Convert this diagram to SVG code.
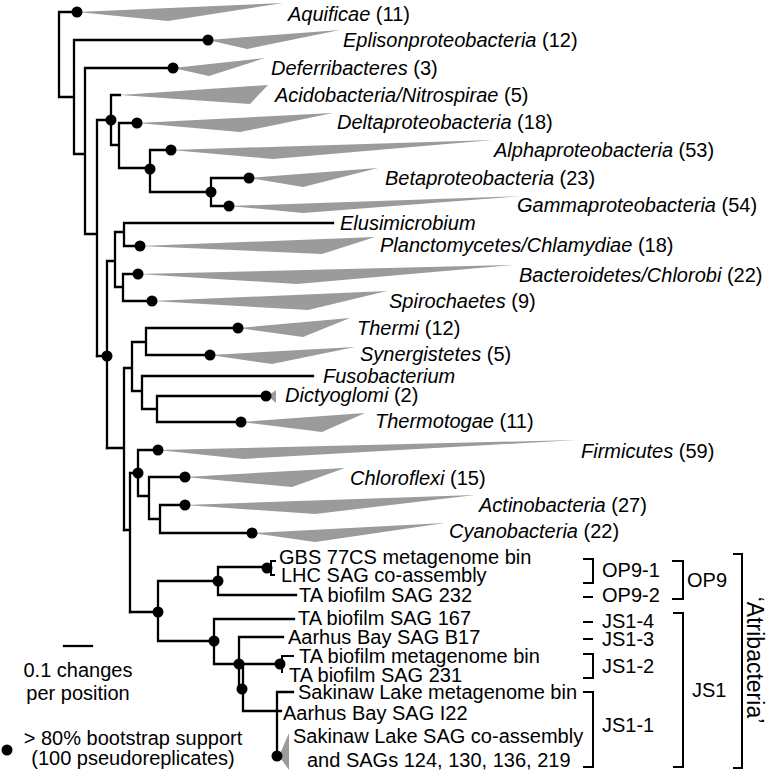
<svg xmlns="http://www.w3.org/2000/svg" width="770" height="774" viewBox="0 0 770 774">
<style>
.br{fill:none;stroke:#000;stroke-width:2.3;stroke-linecap:square}
.bk{fill:none;stroke:#000;stroke-width:2}
.w{fill:#9b9b9b;stroke:none}
.d{fill:#000}
text{font-family:"Liberation Sans",Arial,sans-serif;font-size:20px;fill:#000}
.i{font-style:italic}
</style>
<rect width="770" height="774" fill="#fff"/>
<g id="connectors" class="br">
<path d="M77,12H59V97H74 M74,40V154 M74,40H208 M74,154H85 M85,68V234 M85,68H173 M85,234H97 M97,120V356 M97,120H111 M111,95V145 M111,95H120 M111,145H119 M119,123V168 M119,123H137 M119,168H150 M150,150V192 M150,150H171 M150,192H211 M211,178V206 M211,178H249 M211,206H229"/>
<path d="M97,356H107 M107,261V448 M107,261H115 M115,232V287 M115,232H124 M124,223V246 M124,223H333 M124,246H140 M115,287H123 M123,274V301 M123,274H138 M123,301H152"/>
<path d="M107,448H124 M124,368V530 M124,368H132 M132,342V391 M132,342H146 M146,328V355 M146,328H238 M146,355H210 M132,391H142 M142,376V409 M142,376H313 M142,409H157 M157,396V422 M157,396H266 M157,422H241"/>
<path d="M124,530H130 M130,473V612 M130,473H138 M138,450V496 M138,450H158 M138,496H149 M149,477V519 M149,477H185 M149,519H160 M160,505V533 M160,505H185 M160,533H252"/>
<path d="M130,612H158 M158,581V641 M158,581H218 M218,567V595 M218,567H267 M218,595H296 M158,641H214 M214,619V664 M214,619H294 M214,664H239 M239,637V690 M239,637H283 M239,690H243 M243,664V711 M243,664H280 M243,711H281 M277,692V756 M277,692H293"/>
<path d="M267,568H271 M271,561V575 M271,561H275 M271,575H274 M280,664H282 M282,656V672 M282,656H293" stroke-width="2"/>
</g>
<g id="internal-nodes" class="d">
<circle cx="111" cy="120" r="5.5"/><circle cx="150" cy="169" r="5.5"/><circle cx="211" cy="192" r="5.5"/>
<circle cx="107" cy="356" r="5.5"/><circle cx="138" cy="473" r="5.5"/><circle cx="158" cy="612" r="5.5"/>
<circle cx="218" cy="581" r="5.5"/><circle cx="214" cy="641" r="5.5"/><circle cx="239" cy="664" r="5.5"/><circle cx="242" cy="689" r="5.5"/>
</g>
<g id="aquificae"><polygon class="w" points="77,12 283,3 168,21"/><circle class="d" cx="77" cy="12" r="5.5"/><text x="288" y="21"><tspan class="i">Aquificae</tspan> (11)</text></g>
<g id="epsilon"><polygon class="w" points="208,40 340,30 247,49"/><circle class="d" cx="208" cy="40" r="5.5"/><text x="343" y="47"><tspan class="i">Eplisonproteobacteria</tspan> (12)</text></g>
<g id="deferribacteres"><polygon class="w" points="173,68 265,58 209,76"/><circle class="d" cx="173" cy="68" r="5.5"/><text x="271" y="75"><tspan class="i">Deferribacteres</tspan> (3)</text></g>
<g id="acidobacteria"><polygon class="w" points="120,95 268,85 250,104"/><text x="275" y="102"><tspan class="i">Acidobacteria/Nitrospirae</tspan> (5)</text></g>
<g id="delta"><polygon class="w" points="137,123 333,113 240,132"/><circle class="d" cx="137" cy="123" r="5.5"/><text x="337" y="129"><tspan class="i">Deltaproteobacteria</tspan> (18)</text></g>
<g id="alpha"><polygon class="w" points="171,150 493,140 273,159"/><circle class="d" cx="171" cy="150" r="5.5"/><text x="494" y="157"><tspan class="i">Alphaproteobacteria</tspan> (53)</text></g>
<g id="beta"><polygon class="w" points="249,178 378,168 303,187"/><circle class="d" cx="249" cy="178" r="5.5"/><text x="385" y="185"><tspan class="i">Betaproteobacteria</tspan> (23)</text></g>
<g id="gamma"><polygon class="w" points="229,206 522,196 303,213"/><circle class="d" cx="229" cy="206" r="5.5"/><text x="517" y="212"><tspan class="i">Gammaproteobacteria</tspan> (54)</text></g>
<g id="elusimicrobium"><text x="340" y="230" class="i">Elusimicrobium</text></g>
<g id="planctomycetes"><polygon class="w" points="140,246 375,237 322,254"/><circle class="d" cx="140" cy="246" r="5.5"/><text x="380" y="252"><tspan class="i">Planctomycetes/Chlamydiae</tspan> (18)</text></g>
<g id="bacteroidetes"><polygon class="w" points="138,274 513,265 297,284"/><circle class="d" cx="138" cy="274" r="5.5"/><text x="519" y="282"><tspan class="i">Bacteroidetes/Chlorobi</tspan> (22)</text></g>
<g id="spirochaetes"><polygon class="w" points="152,301 387,291 308,310"/><circle class="d" cx="152" cy="301" r="5.5"/><text x="389" y="308"><tspan class="i">Spirochaetes</tspan> (9)</text></g>
<g id="thermi"><polygon class="w" points="238,328 350,318 303,337"/><circle class="d" cx="238" cy="328" r="5.5"/><text x="357" y="335"><tspan class="i">Thermi</tspan> (12)</text></g>
<g id="synergistetes"><polygon class="w" points="210,355 355,347 272,364"/><circle class="d" cx="210" cy="355" r="5.5"/><text x="360" y="361"><tspan class="i">Synergistetes</tspan> (5)</text></g>
<g id="fusobacterium"><text x="323" y="383" class="i">Fusobacterium</text></g>
<g id="dictyoglomi"><polygon class="w" points="268,396 276,390 276,403"/><circle class="d" cx="266" cy="396" r="5.5"/><text x="285" y="402"><tspan class="i">Dictyoglomi</tspan> (2)</text></g>
<g id="thermotogae"><polygon class="w" points="241,422 365,413 322,432"/><circle class="d" cx="241" cy="422" r="5.5"/><text x="375" y="428"><tspan class="i">Thermotogae</tspan> (11)</text></g>
<g id="firmicutes"><polygon class="w" points="158,450 577,440 243,459"/><circle class="d" cx="158" cy="450" r="5.5"/><text x="581" y="458"><tspan class="i">Firmicutes</tspan> (59)</text></g>
<g id="chloroflexi"><polygon class="w" points="185,477 345,468 292,487"/><circle class="d" cx="185" cy="477" r="5.5"/><text x="350" y="485"><tspan class="i">Chloroflexi</tspan> (15)</text></g>
<g id="actinobacteria"><polygon class="w" points="185,505 475,495 315,514"/><circle class="d" cx="185" cy="505" r="5.5"/><text x="479" y="512"><tspan class="i">Actinobacteria</tspan> (27)</text></g>
<g id="cyanobacteria"><polygon class="w" points="252,533 445,523 315,542"/><circle class="d" cx="252" cy="533" r="5.5"/><text x="449" y="538"><tspan class="i">Cyanobacteria</tspan> (22)</text></g>
<g id="op9-1"><circle class="d" cx="267" cy="568" r="5.5"/><text x="279" y="564">GBS 77CS metagenome bin</text><text x="281" y="582">LHC SAG co-assembly</text></g>
<g id="op9-2"><text x="299" y="602">TA biofilm SAG 232</text></g>
<g id="js1-4"><text x="298" y="625">TA biofilm SAG 167</text></g>
<g id="js1-3"><text x="288" y="644">Aarhus Bay SAG B17</text></g>
<g id="js1-2"><circle class="d" cx="280" cy="664" r="5.5"/><text x="299" y="663">TA biofilm metagenome bin</text><text x="289" y="682">TA biofilm SAG 231</text></g>
<g id="js1-1"><polygon class="w" points="279,756 289,733 289,770"/><circle class="d" cx="277" cy="756" r="5.5"/><text x="298" y="699">Sakinaw Lake metagenome bin</text><text x="283" y="720">Aarhus Bay SAG I22</text><text x="293" y="743">Sakinaw Lake SAG co-assembly</text><text x="307" y="767">and SAGs 124, 130, 136, 219</text></g>
<g id="clade-labels">
<path class="bk" d="M583,559H593V583H583 M583,597H593 M583,622H593 M583,639H593 M583,654H593V678H583 M583,692H593V767H583 M672,561H683V599H672 M673,613H683V767H673 M733,554H742V768H733"/>
<text x="602" y="577">OP9-1</text><text x="602" y="602">OP9-2</text><text x="602" y="628">JS1-4</text><text x="602" y="646">JS1-3</text><text x="602" y="673">JS1-2</text><text x="602" y="732">JS1-1</text>
<text x="687" y="587">OP9</text><text x="692" y="697">JS1</text>
<text transform="translate(747,660) rotate(90)" text-anchor="middle" style="font-size:23px">‘Atribacteria’</text>
</g>
<g id="legend">
<path class="br" d="M64,646H92"/>
<text x="78" y="677" text-anchor="middle">0.1 changes</text><text x="78" y="700" text-anchor="middle">per position</text>
<circle class="d" cx="7" cy="750" r="5.5"/>
<text x="133" y="745" text-anchor="middle">&gt; 80% bootstrap support</text><text x="133" y="765" text-anchor="middle">(100 pseudoreplicates)</text>
</g>
</svg>
